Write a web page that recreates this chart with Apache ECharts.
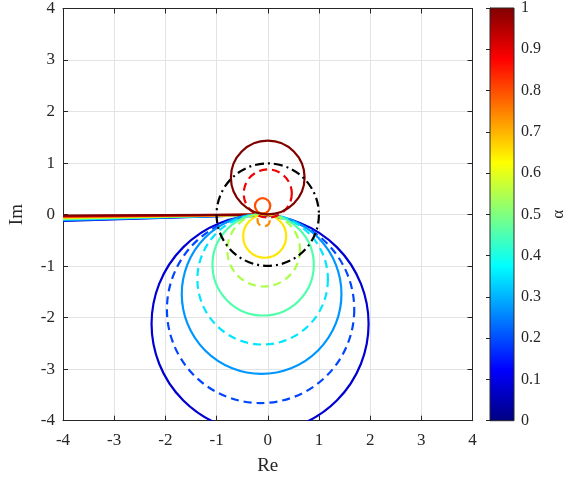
<!DOCTYPE html>
<html>
<head>
<meta charset="utf-8">
<script src="https://cdn.jsdelivr.net/npm/echarts@6/dist/echarts.min.js"></script>
<style>
  html, body { margin: 0; padding: 0; background: #fff; }
  #chart { width: 580px; height: 482px; }
</style>
</head>
<body>
<div id="chart"></div>
<script>
// curves ordered by alpha (dark blue -> dark red)
const alphas = [0.08, 0.2, 0.29, 0.37, 0.46, 0.54, 0.62, 0.7, 0.79, 0.9, 1.0];
const colors = ["#0000d2", "#0046ff", "#0096ff", "#00e6ff", "#50ffaa", "#aaff46", "#ffe600", "#ff8c00", "#ff5000", "#f00000", "#800000"];
const centerRe = [-0.15, -0.14, -0.12, -0.1, -0.09, -0.08, -0.06, -0.08, -0.1, 0.0, 0.0];
const centerIm = [-2.12, -1.84, -1.54, -1.255, -0.975, -0.69, -0.42, -0.11, 0.17, 0.41, 0.72];
const radius = [2.12, 1.83, 1.56, 1.275, 0.99, 0.71, 0.42, 0.12, 0.15, 0.47, 0.72];
const dashed = [false, true, false, true, false, true, false, true, false, true, false];
// imaginary part of each tail at Re = -4 (tails end at the origin)
const tailIm = [-0.12, -0.115, -0.105, -0.095, -0.085, -0.075, -0.06, -0.05, -0.04, -0.03, -0.02];

const unitCircle = [0, 0, 1];
const axisTicks = [-4, -3, -2, -1, 0, 1, 2, 3, 4];
const cbarTicks = [0, 0.1, 0.2, 0.3, 0.4, 0.5, 0.6, 0.7, 0.8, 0.9, 1];

const font = "Liberation Serif";
const ink = "#262626";
const lw = 2.2;

const jet = [
  { offset: 0, color: "#000080" },
  { offset: 0.125, color: "#0000ff" },
  { offset: 0.375, color: "#00ffff" },
  { offset: 0.625, color: "#ffff00" },
  { offset: 0.875, color: "#ff0000" },
  { offset: 1, color: "#800000" },
];

const mainAxis = (extra, margin) => Object.assign({
  type: "value",
  min: axisTicks[0],
  max: axisTicks[axisTicks.length - 1],
  interval: 1,
  axisLine: { show: true, onZero: false, lineStyle: { color: ink, width: 1 } },
  axisTick: { show: true, inside: true, length: 5, lineStyle: { color: ink } },
  axisLabel: { color: ink, fontFamily: font, fontSize: 17, margin: margin || 8 },
  splitLine: { show: true, lineStyle: { color: "#e3e3e3", width: 1 } },
}, extra);

const circleData = centerRe.map((cx, i) => [cx, centerIm[i], radius[i], i]);

const tailSeries = tailIm.map((y0, i) => ({
  type: "line",
  xAxisIndex: 0,
  yAxisIndex: 0,
  data: [[-4, y0], [0, 0]],
  showSymbol: false,
  silent: true,
  lineStyle: { color: colors[i], width: lw },
  z: 2 + i * 0.01,
}));

const option = {
  animation: false,
  grid: [
    { left: 59.5, top: 6, right: 107.5, bottom: 61.3 },
    { left: 490, top: 6, right: 66, bottom: 61.3 },
  ],
  xAxis: [
    mainAxis({ gridIndex: 0, position: "bottom", name: "Re", nameLocation: "middle", nameGap: 36,
      nameTextStyle: { color: ink, fontFamily: font, fontSize: 19 } }, 11),
    mainAxis({ gridIndex: 0, position: "top", axisLabel: { show: false }, splitLine: { show: false } }),
    { type: "value", gridIndex: 1, min: 0, max: 1, show: false },
  ],
  yAxis: [
    mainAxis({ gridIndex: 0, position: "left", name: "Im", nameLocation: "middle", nameGap: 36, nameRotate: 90,
      nameTextStyle: { color: ink, fontFamily: font, fontSize: 19 } }, 8),
    mainAxis({ gridIndex: 0, position: "right", axisLabel: { show: false }, splitLine: { show: false } }),
    {
      type: "value", gridIndex: 1, position: "right", min: 0, max: 1, interval: 0.1,
      name: "α", nameLocation: "middle", nameGap: 36, nameRotate: 90,
      nameTextStyle: { color: ink, fontFamily: font, fontSize: 17 },
      axisLine: { show: true, lineStyle: { color: ink } },
      axisTick: { show: true, inside: true, length: 4, lineStyle: { color: ink } },
      axisLabel: { color: ink, fontFamily: font, fontSize: 16, margin: 7 },
      splitLine: { show: false },
    },
  ],
  series: [
    ...tailSeries,
    {
      type: "custom",
      xAxisIndex: 0,
      yAxisIndex: 0,
      clip: true,
      silent: true,
      z: 3,
      data: circleData,
      renderItem: (params, api) => {
        const i = api.value(3);
        const c = api.coord([api.value(0), api.value(1)]);
        const r = api.size([api.value(2), 0])[0];
        return {
          type: "circle",
          shape: { cx: c[0], cy: c[1], r: r },
          style: { fill: "none", stroke: colors[i], lineWidth: lw, lineDash: dashed[i] ? [8, 5] : null },
        };
      },
    },
    {
      type: "custom",
      xAxisIndex: 0,
      yAxisIndex: 0,
      clip: true,
      silent: true,
      z: 4,
      data: [unitCircle],
      renderItem: (params, api) => {
        const c = api.coord([api.value(0), api.value(1)]);
        const r = api.size([api.value(2), 0])[0];
        return {
          type: "circle",
          shape: { cx: c[0], cy: c[1], r: r },
          style: { fill: "none", stroke: "#000", lineWidth: lw, lineDash: [9, 4, 2, 4] },
        };
      },
    },
    {
      type: "custom",
      xAxisIndex: 2,
      yAxisIndex: 2,
      silent: true,
      z: 1,
      data: [[0, 0, 1, 1]],
      renderItem: (params, api) => {
        const p0 = api.coord([api.value(0), api.value(1)]);
        const p1 = api.coord([api.value(2), api.value(3)]);
        return {
          type: "rect",
          shape: { x: p0[0], y: p1[1], width: p1[0] - p0[0], height: p0[1] - p1[1] },
          style: {
            fill: new echarts.graphic.LinearGradient(0, 1, 0, 0, jet),
            stroke: ink,
            lineWidth: 1,
          },
        };
      },
    },
  ],
};

const myChart = echarts.init(document.getElementById("chart"));
myChart.setOption(option);
</script>
</body>
</html>
